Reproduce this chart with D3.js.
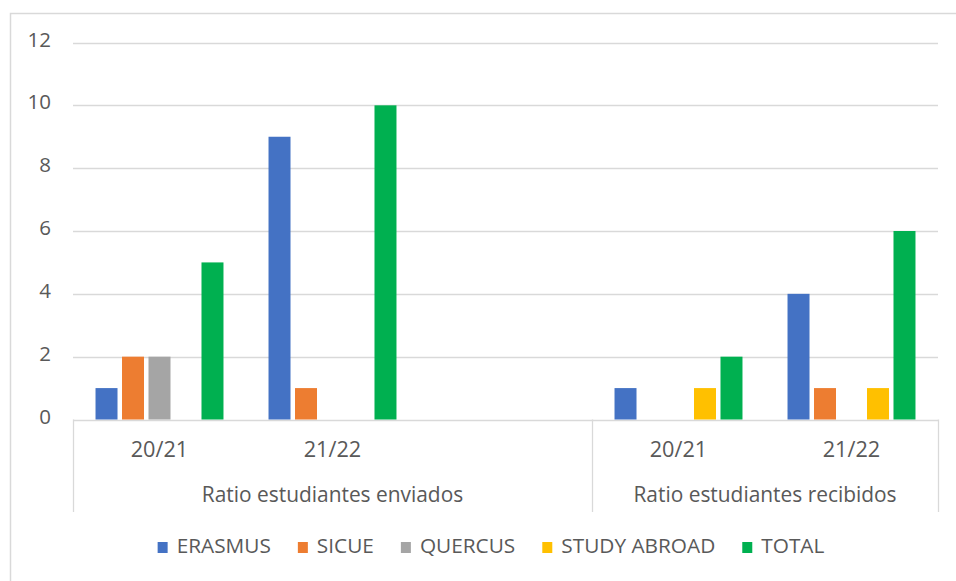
<!DOCTYPE html>
<html>
<head>
<meta charset="utf-8">
<script src="https://cdn.jsdelivr.net/npm/d3@7/dist/d3.min.js"></script>
<style>
  html, body { margin: 0; padding: 0; background: #fff; }
  svg text { font-family: "Open Sans", "Liberation Sans", sans-serif; fill: #595959; }
</style>
</head>
<body>
<svg id="chart" width="956" height="581"></svg>
<script>
// ---- data ----
const groups = ["Ratio estudiantes enviados", "Ratio estudiantes recibidos"];
const categories = ["20/21", "21/22", "", "20/21", "21/22"];
const categoryGroup = [0, 0, 0, 1, 1];
const seriesNames = ["ERASMUS", "SICUE", "QUERCUS", "STUDY ABROAD", "TOTAL"];
const erasmus     = [1, 9, null, 1, 4];
const sicue       = [2, 1, null, 0, 1];
const quercus     = [2, 0, null, 0, 0];
const studyAbroad = [0, 0, null, 1, 1];
const total       = [5, 10, null, 2, 6];
const yTicks = [0, 2, 4, 6, 8, 10, 12];
const colors = ["#4472C4", "#ED7D31", "#A5A5A5", "#FFC000", "#00B050"];

const seriesValues = [erasmus, sicue, quercus, studyAbroad, total];

const svg = d3.select("#chart");
const plot = { left: 73, right: 938, top: 42.5, bottom: 419.5 };

// outer frame
svg.append("rect")
  .attr("x", 10.5).attr("y", 13.5).attr("width", 1000).attr("height", 700)
  .attr("fill", "none").attr("stroke", "#D9D9D9").attr("stroke-width", 1.5);

const x = d3.scaleBand().domain(d3.range(categories.length))
  .range([plot.left, plot.right]).padding(0);
const xs = d3.scaleBand().domain(seriesNames)
  .range([0, x.bandwidth()]).paddingInner(0.17).paddingOuter(0.85);
const y = d3.scaleLinear().domain([0, 12]).range([plot.bottom, plot.top]);

// gridlines
svg.append("g").selectAll("line").data(yTicks).join("line")
  .attr("x1", plot.left).attr("x2", plot.right)
  .attr("y1", d => Math.round(y(d)) + 0.5).attr("y2", d => Math.round(y(d)) + 0.5)
  .attr("stroke", "#D9D9D9").attr("stroke-width", 1.3);

// y tick labels
svg.append("g").selectAll("text").data(yTicks).join("text")
  .attr("x", 51).attr("y", d => y(d) + 4)
  .attr("text-anchor", "end").attr("font-size", 20.5)
  .text(d => d);

// bars
const barData = [];
seriesValues.forEach((vals, si) => {
  vals.forEach((v, ci) => {
    if (v !== null && v > 0) barData.push({ s: seriesNames[si], si, ci, v });
  });
});
svg.append("g").selectAll("rect").data(barData).join("rect")
  .attr("x", d => x(d.ci) + xs(d.s))
  .attr("width", xs.bandwidth())
  .attr("y", d => y(d.v))
  .attr("height", d => y(0) - y(d.v))
  .attr("fill", d => colors[d.si]);

// category labels
svg.append("g").selectAll("text").data(categories).join("text")
  .attr("x", (d, i) => x(i) + x.bandwidth() / 2)
  .attr("y", 457)
  .attr("text-anchor", "middle").attr("font-size", 21.7)
  .text(d => d);

// group extents and separators
const groupExt = groups.map((g, gi) => {
  const idx = d3.range(categories.length).filter(i => categoryGroup[i] === gi);
  return { name: g, x0: x(d3.min(idx)), x1: x(d3.max(idx)) + x.bandwidth() };
});
const seps = [groupExt[0].x0, ...groupExt.map(g => g.x1)];
svg.append("g").selectAll("line").data(seps).join("line")
  .attr("x1", d => d + 0.5).attr("x2", d => d + 0.5)
  .attr("y1", plot.bottom).attr("y2", 512)
  .attr("stroke", "#D9D9D9").attr("stroke-width", 1.3);

svg.append("g").selectAll("text").data(groupExt).join("text")
  .attr("x", d => (d.x0 + d.x1) / 2)
  .attr("y", 502)
  .attr("text-anchor", "middle").attr("font-size", 20.9)
  .text(d => d.name);

// legend
const legend = svg.append("g");
const items = legend.selectAll("g").data(seriesNames).join("g");
items.append("rect").attr("width", 10).attr("height", 11).attr("y", 542)
  .attr("fill", (d, i) => colors[i]);
items.append("text").attr("x", 19).attr("y", 553).attr("font-size", 20.8).text(d => d);
let cx = 0;
const offs = [];
items.each(function (d) {
  offs.push(cx);
  const w = this.querySelector("text").getComputedTextLength();
  cx += 19 + w + 27;
});
const legendW = cx - 27;
const startX = 491 - legendW / 2;
items.attr("transform", (d, i) => `translate(${startX + offs[i]},0)`);
</script>
</body>
</html>
